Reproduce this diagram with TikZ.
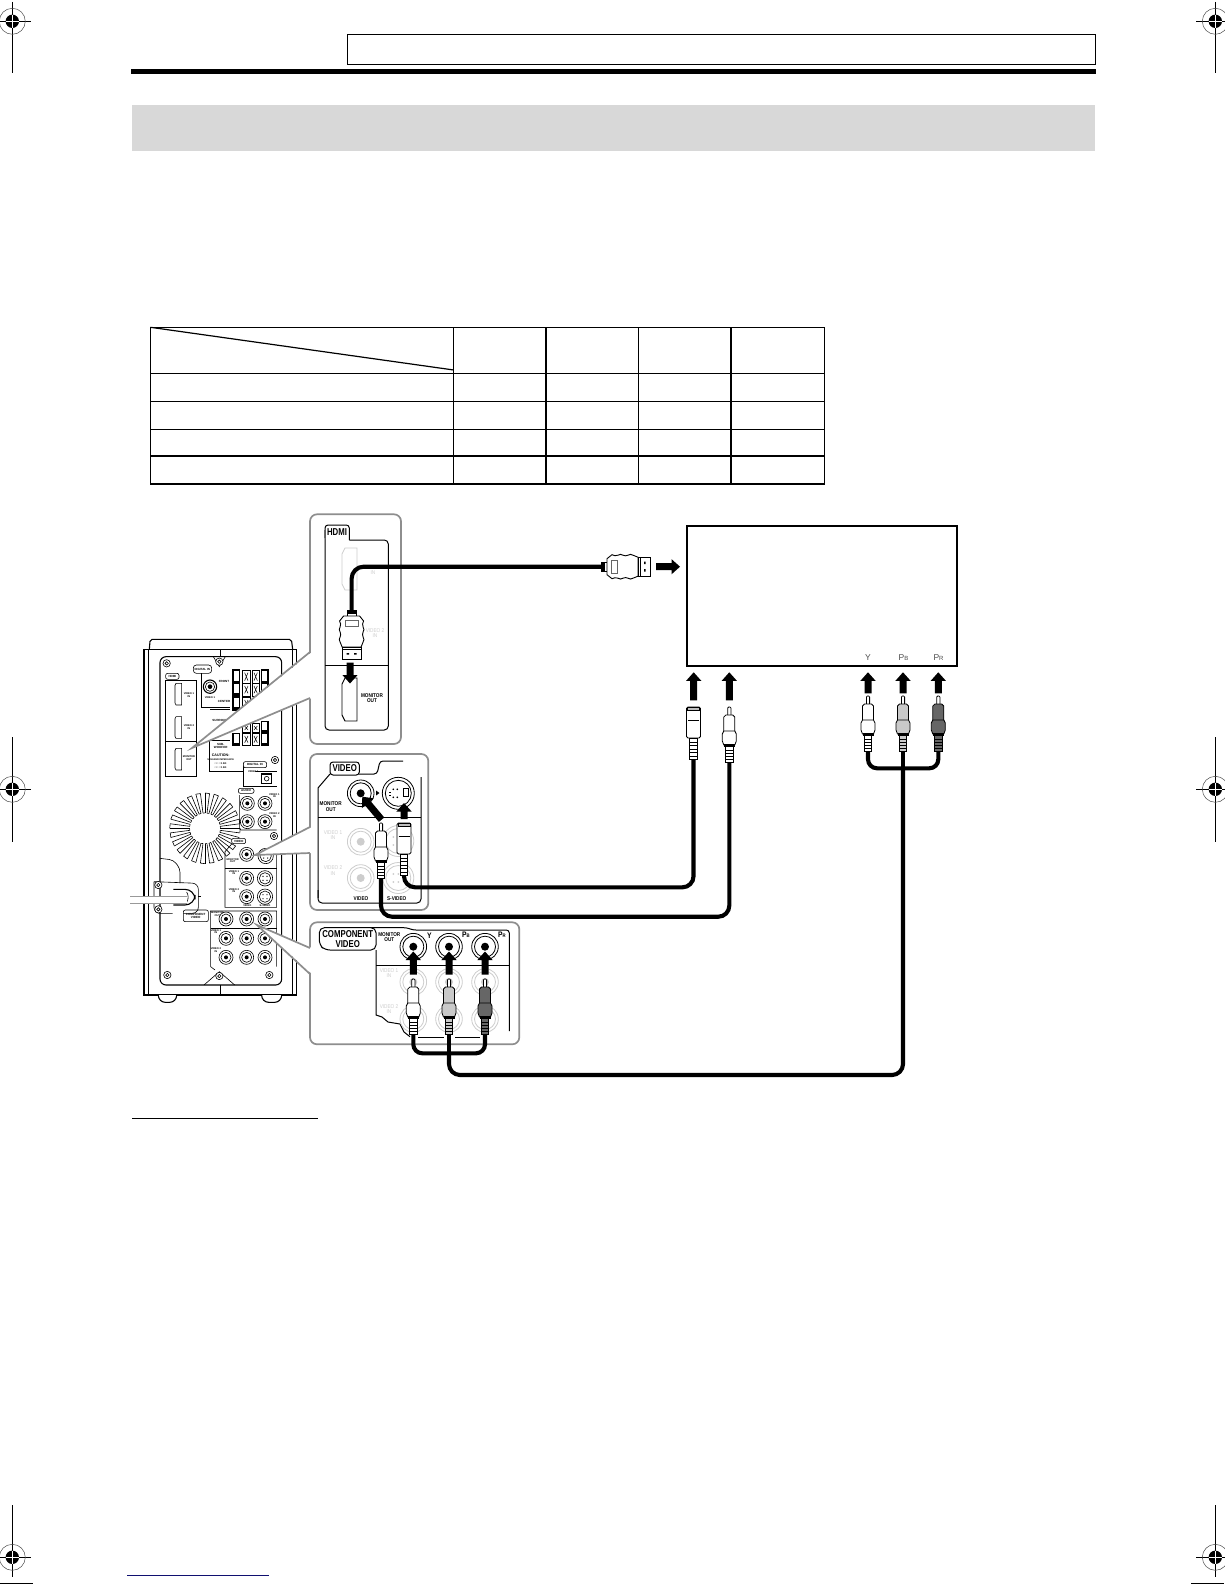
\documentclass[tikz,border=0pt]{standalone}
\usepackage{fontspec}
\setmainfont{Liberation Sans}
\definecolor{panelgray}{HTML}{8E8E8E}
\definecolor{fadegray}{HTML}{CDCDCD}
\definecolor{bandgray}{HTML}{D8D8D8}
\definecolor{plugmid}{HTML}{C9C9C9}
\definecolor{plugdark}{HTML}{666666}
\definecolor{navyline}{HTML}{101070}
\newcommand\fs[1]{\fontsize{#1}{#1}\selectfont}
\tikzset{
  cable/.style={line width=4.1pt,black,rounded corners=11pt},
  panel/.style={draw=panelgray,line width=1.7pt,fill=white,rounded corners=7pt},
  inkline/.style={line width=1pt,black},
  fadeline/.style={line width=.8pt,fadegray},
  boldlab/.style={inner sep=0pt,align=center,font=\bfseries\fs{5.5},xscale=.85},
  fadelab/.style={inner sep=0pt,align=center,font=\fs{5.5},text=fadegray,xscale=.85},
  tablab/.style={inner sep=0pt,align=center,font=\bfseries\fs{10},xscale=.78},
  tinylab/.style={inner sep=0pt,align=center,font=\bfseries\fs{3}},
  tvlab/.style={inner sep=0pt,text=black!70},
  tabline/.style={line width=1.2pt,black},
  tabthick/.style={line width=2.4pt,black},
  rearline/.style={line width=.6pt,black},
  reardark/.style={line width=1.1pt,black},
}
% block arrow: tip at (x,y), rotated, given total length
\newcommand\blockarrow[4]{%
  \fill[black,shift={(#1,#2)},rotate=#3] (0,0)--(7.6,8.5)--(3.5,8.5)--(3.5,#4)--(-3.5,#4)--(-3.5,8.5)--(-7.6,8.5)--cycle;}
\newcommand\regmark[4]{%
  \draw[line width=.9pt] (#1,#3)--(#1,#4);
  \draw[line width=.9pt] (#1-19,#2)--(#1+19,#2);
  \draw[line width=.5pt,black!70] (#1,#2) circle (13);
  \fill[black] (#1,#2) circle (6.7);
  \draw[white,line width=.9pt] (#1-6.7,#2)--(#1+6.7,#2) (#1,#2-6.7)--(#1,#2+6.7);}
\newcommand\rcaplug[3]{%
  \begin{scope}[shift={(#1,#2)},line width=.8pt]
    \draw[fill=white,rounded corners=1pt] (-1.6,8.5)--(-1.6,0)--(1.6,0)--(1.6,8.5);
    \draw[fill=#3] (-5.5,29)--(-5.5,10)--(-3.5,8)--(3.5,8)--(5.5,10)--(5.5,29)--cycle;
    \draw[fill=#3] (-5.5,24)--(-7,27)--(-7,34)--(-5.5,38)--(5.5,38)--(7,34)--(7,27)--(5.5,24)--cycle;
    \fill[black] (-5.5,37) rectangle (5.5,39.5);
    \draw[fill=#3] (-3.8,39.5) rectangle (3.8,55);
    \foreach \s in {43,46,49,52} \draw[line width=.9pt] (-3.8,\s)--(3.8,\s);
  \end{scope}}
\newcommand\svplug[2]{%
  \begin{scope}[shift={(#1,#2)},line width=.8pt]
    \draw[fill=white,rounded corners=1.5pt] (-7,31)--(-7,0)--(7,0)--(7,31)--cycle;
    \draw[fill=black!25] (-6,.5) rectangle (6,3);
    \draw (-5.5,13.5)--(5.5,13.5);
    \draw[fill=white] (-3.8,31) rectangle (3.8,52);
    \foreach \s in {35,38.5,42,45.5,49} \draw[line width=.9pt] (-3.8,\s)--(3.8,\s);
  \end{scope}}
\newcommand\hdmiplug[3]{%
  \begin{scope}[shift={(#1,#2)},rotate=#3,line width=.9pt]
    \draw[fill=black] (-4.5,0) rectangle (4.5,3);
    \draw[fill=white] (-4.5,3) rectangle (4.5,6);
    \draw[fill=white] (-8,6)--(-12,11) to[bend left=25] (-11.5,17) to[bend right=35] (-11.5,22) to[bend left=25] (-11.5,27) to[bend right=35] (-11.5,32)--(-9.5,37)--(9.5,37)--(11.5,32) to[bend right=35] (11.5,27) to[bend left=25] (11.5,22) to[bend right=35] (11.5,17) to[bend left=25] (12,11)--(8,6)--cycle;
    \draw[line width=.6pt,black!60] (-6.5,10.5) rectangle (6.5,16.5);
    \draw[fill=white] (-9.5,37) rectangle (9.5,49);
    \draw (-9.5,37) rectangle (9.5,39);
    \fill (-5,43) rectangle (-2.5,44.5) (2.5,43) rectangle (5,44.5);
  \end{scope}}
\newcommand\jackdark[2]{%
  \draw[line width=.8pt,fill=white] (#1,#2) circle (13.3);
  \draw[line width=.8pt] (#1,#2) circle (10.5);
  \fill (#1,#2) circle (4);}
\newcommand\jackfade[2]{%
  \draw[fadeline,fill=white] (#1,#2) circle (13.3);
  \draw[fadeline] (#1,#2) circle (10.5);
  \fill[fadegray] (#1,#2) circle (4);}
\newcommand\svfade[2]{%
  \draw[fadeline,fill=white] (#1,#2) circle (15.5);
  \draw[fadeline] (#1,#2) circle (12.5);
  \foreach \d/\e in {-5/-4,0/-4,-5/4,0/4} \fill[fadegray] (#1+\d,#2+\e) circle (1);}
\newcommand\portshape[5]{%
  \draw[#5] (#1+3,#2)--(#1+#3,#2)--(#1+#3,#2+#4)--(#1+3,#2+#4)--(#1,#2+#4-6)--(#1,#2+6)--cycle;}
\newcommand\rearjack[2]{%
  \draw[rearline,fill=white] (#1,#2) circle (21);
  \draw[rearline] (#1,#2) circle (15);
  \fill (#1,#2) circle (6);}
\newcommand\rearsv[2]{%
  \draw[rearline,fill=white] (#1,#2) circle (23);
  \draw[rearline] (#1,#2) circle (17);
  \foreach \d/\e in {-6/-6,6/-6,-6/6,6/6} \fill (#1+\d,#2+\e) circle (2);}
\newcommand\screw[2]{%
  \draw[rearline,fill=white] (#1,#2) circle (11);
  \draw[rearline] (#1,#2) circle (5);}
\newcommand\terminal[3]{%
  \draw[line width=.8pt,fill=white] (#1,#2) rectangle (#1+22,#3);
  \draw[line width=.5pt] (#1+6,#2+8)--(#1+16,#3-8) (#1+16,#2+8)--(#1+6,#3-8);}
\newcommand\terminalbar[3]{%
  \draw[line width=1.5pt,fill=white] (#1+1,#2) rectangle (#1+20,#3);
  \fill (#1+1,#3-8) rectangle (#1+20,#3);}
\begin{document}
\begin{tikzpicture}[x=1pt,y=-1pt]
\useasboundingbox (0,0) rectangle (1224,1584);
\fill[white] (0,0) rectangle (1224,1584);

% registration marks
\regmark{12.3}{21.3}{2}{73.5}
\regmark{1215.3}{21.3}{2}{73.5}
\regmark{12.3}{789.3}{737}{841.7}
\regmark{1215.3}{789.3}{737}{841.7}
\regmark{12.3}{1557.3}{1505}{1577}
\regmark{1215.3}{1557.3}{1505}{1577}
\draw[line width=.8pt] (0,1583)--(33,1583) (1191,1583)--(1224,1583);
\draw[navyline,line width=1pt] (127,1575.3)--(269,1575.3);

% header
\draw[line width=1.2pt,black] (347.5,34.5) rectangle (1095.5,64.5);
\fill[black] (131,69) rectangle (1096,73.8);
\fill[bandgray] (132,105) rectangle (1095,151);

% table
\draw[tabline] (150.5,327.3) rectangle (824.5,484);
\draw[tabline] (150.5,373.3)--(824.5,373.3) (150.5,401.3)--(824.5,401.3) (150.5,429.3)--(824.5,429.3);
\draw[tabthick] (150.5,455.7)--(824.5,455.7);
\draw[tabline] (453.7,327.3)--(453.7,484) (638.5,327.3)--(638.5,484) (731,327.3)--(731,484);
\draw[line width=1.9pt] (546,327.3)--(546,484);
\draw[tabline] (150.5,327.3)--(453.7,370);

% footnote rule
\draw[line width=1.1pt] (132,1118.7)--(318,1118.7);

% ------------------ rear of the unit -----------------
\begin{scope}[shift={(130,620)},x=.33333pt,y=-.33333pt]
  \draw[reardark] (58,88)--(60,64)--(66,58)--(478,58)--(485,64)--(488,88);
  \draw[reardark,fill=white] (42,88) rectangle (500,1125);
  \draw[rearline] (55,88)--(55,1125) (487,88)--(487,1125) (272,88)--(272,110) (272,1095)--(272,1125);
  \draw[reardark,rounded corners=7pt,fill=white] (85,1125)--(85,1147)--(140,1147)--(140,1125);
  \draw[reardark,rounded corners=7pt,fill=white] (395,1125)--(395,1147)--(455,1147)--(455,1125);
  \draw[reardark,rounded corners=6pt] (90,110) rectangle (455,1095);
  \draw[rearline] (250,110)--(268,140)--(286,110) (222,1095)--(268,1055)--(314,1095);
  \screw{110}{130}\screw{268}{125}\screw{435}{420}\screw{432}{648}\screw{112}{1065}\screw{268}{1068}\screw{418}{1065}
  % HDMI block
  \draw[rearline,fill=white] (107,180) rectangle (200,470);
  \draw[rearline] (107,365)--(200,365);
  \draw[rearline,rounded corners=2pt,fill=white] (107,160) rectangle (147,178);
  \node[tinylab] (rearhdmi) at (127,169) {HDMI};
  \portshape{135}{190}{20}{65}{rearline}
  \portshape{135}{290}{20}{65}{rearline}
  \portshape{135}{385}{20}{65}{rearline}
  \node[tinylab,font=\bfseries\fs{2.6}] (rearv1) at (177,225) {VIDEO 1\\IN};
  \node[tinylab,font=\bfseries\fs{2.6}] (rearv2) at (177,322) {VIDEO 2\\IN};
  \node[tinylab,font=\bfseries\fs{2.6}] (rearmo) at (177,415) {MONITOR\\OUT};
  % digital coaxial
  \draw[rearline,rounded corners=3pt,fill=white] (190,135) rectangle (245,160);
  \node[tinylab] (reardig) at (217,147) {DIGITAL IN};
  \draw[rearline] (215,160)--(215,262)--(300,262);
  \draw[reardark,fill=white] (240,200) circle (20);
  \draw[rearline] (240,200) circle (14);
  \fill (240,200) circle (7);
  \node[tinylab,font=\bfseries\fs{2.6}] (rearvid1) at (240,234) {VIDEO 1};
  \node[tinylab] (rearfront) at (282,183) {FRONT};
  \node[tinylab] (rearcenter) at (282,243) {CENTER};
  \node[tinylab] (rearsurr) at (273,300) {SURROUND};
  \node[tinylab] (rearsub) at (272,378) {SUB-\\WOOFER};
  % speaker terminals
  \terminalbar{308}{150}{190}\terminal{338}{150}{190}\terminal{366}{150}{190}\terminalbar{394}{150}{190}
  \terminalbar{308}{190}{228}\terminal{338}{190}{228}\terminal{366}{190}{228}\terminalbar{394}{190}{228}
  \terminalbar{308}{232}{270}\terminal{338}{232}{270}
  \terminal{338}{310}{338}\terminal{366}{310}{338}\terminalbar{394}{305}{338}
  \terminalbar{308}{340}{376}\terminal{338}{340}{376}\terminal{366}{340}{376}\terminalbar{394}{340}{376}
  \draw[rearline] (240,268)--(300,268) (215,360)--(300,360) (238,360)--(238,455)--(440,455);
  \node[tinylab,font=\bfseries\fs{3.6}] (rearcaution) at (272,405) {CAUTION:};
  \node[tinylab,font=\bfseries\fs{2.4}] (rearimp) at (272,418) {SPEAKER IMPEDANCE};
  \node[tinylab,font=\bfseries\fs{2.6}] (rearo1) at (272,430) {□□ : 3~4Ω};
  \node[tinylab,font=\bfseries\fs{2.6}] (rearo2) at (272,443) {□□ : 3~4Ω};
  % digital optical
  \draw[rearline,fill=white] (340,430)--(340,500)--(440,500);
  \draw[rearline,rounded corners=2pt,fill=white] (340,425) rectangle (410,443);
  \node[tinylab] (reardigin) at (375,434) {DIGITAL IN};
  \node[tinylab,font=\bfseries\fs{2.6}] (rearvideo1) at (370,456) {VIDEO 1};
  \draw[reardark,line width=1.4pt] (395,462) rectangle (425,490);
  \draw[rearline] (410,476) circle (7);
  % fan
  \foreach \a in {0,7.5,...,352.5} {
    \draw[line width=.6pt] (225,625)++(\a:46)--++(\a:60);
  }
  \foreach \a in {0,15,...,345} {
    \draw[line width=.6pt] (225,625)++(\a:106)--++(\a+97:13);
    \draw[line width=.6pt] (225,625)++(\a+7.5:46)--++(\a+97:6);
  }
  % audio
  \draw[rearline,rounded corners=2pt] (328,525)--(328,630)--(440,630);
  \draw[rearline,rounded corners=2pt,fill=white] (325,505) rectangle (372,520);
  \node[tinylab] (rearaudio) at (348,512) {AUDIO};
  \rearjack{352}{550}\rearjack{405}{550}\rearjack{352}{605}\rearjack{405}{605}
  \node[tinylab,font=\bfseries\fs{2.6}] (rearav1) at (433,527) {VIDEO 1\\IN};
  \node[tinylab,font=\bfseries\fs{2.6}] (rearav2) at (433,585) {VIDEO 2\\IN};
  % video
  \draw[rearline] (305,672)--(285,695)--(285,862)--(440,862)--(440,680);
  \draw[rearline,rounded corners=2pt,fill=white] (305,655) rectangle (347,671);
  \node[tinylab] (rearvideo) at (326,663) {VIDEO};
  \draw[rearline] (285,745)--(440,745);
  \rearjack{350}{703}\rearsv{407}{708}
  \rearjack{350}{775}\rearsv{405}{775}\rearjack{350}{830}\rearsv{405}{830}
  \node[tinylab,font=\bfseries\fs{2.6}] (rearmon) at (308,722) {MONITOR\\OUT};
  \node[tinylab,font=\bfseries\fs{2.6}] (rearv3) at (312,758) {VIDEO 1\\IN};
  \node[tinylab,font=\bfseries\fs{2.6}] (rearv4) at (312,812) {VIDEO 2\\IN};
  \node[tinylab,font=\bfseries\fs{2.6}] (rearvl) at (352,856) {VIDEO};
  \node[tinylab,font=\bfseries\fs{2.6}] (rearsl) at (405,856) {S-VIDEO};
  % component
  \draw[rearline,rounded corners=2pt,fill=white] (160,870) rectangle (235,905);
  \node[tinylab,font=\bfseries\fs{3}] (rearcomp) at (197,887) {COMPONENT\\VIDEO};
  \draw[rearline] (240,873)--(440,873)--(440,1040) (242,873)--(242,1040)--(255,1050);
  \draw[rearline] (242,925)--(440,925);
  \foreach \x in {288,350,405} {\rearjack{\x}{897}\rearjack{\x}{955}\rearjack{\x}{1012}}
  \node[tinylab,font=\bfseries\fs{2.6}] (rearm2) at (262,882) {MONITOR\\OUT};
  \node[tinylab,font=\bfseries\fs{2.6}] (rearc1) at (258,935) {VIDEO 1\\IN};
  \node[tinylab,font=\bfseries\fs{2.6}] (rearc2) at (258,990) {VIDEO 2\\IN};
  % power cord area
  \draw[rearline,rounded corners=4pt] (90,715)--(130,720)--(150,745)--(150,790);
  \draw[rearline,rounded corners=6pt] (72,785)--(72,880)--(128,880) (160,880)--(205,880)--(205,790)--(72,785);
  \screw{85}{795}\screw{85}{868}
  \draw[reardark,rounded corners=10pt,fill=white] (130,808)--(195,808)--(195,855)--(130,855);
  \draw[rearline] (170,816) to[bend left=30] (170,847);
  \fill[white] (0,829) rectangle (170,851);
  \draw[line width=.9pt,black!40] (0,829)--(170,829) (0,851)--(170,851);
  \draw[rearline] (205,830)--(212,830);
\end{scope}

% ------------------ detail panels ------------------
\draw[panel] (310,514.3) rectangle (401,744);
\draw[panel] (310,754) rectangle (428.3,910);
\draw[panel] (310,922.3) rectangle (519.3,1044.3);

% leaders (white wedges with gray rims)
\fill[white] (312,652)--(192,748)--(312,698)--cycle;
\draw[line width=1.7pt,panelgray] (310,652)--(192,748)--(310,698);
\fill[white] (312,827)--(255,855)--(312,853)--cycle;
\draw[line width=1.7pt,panelgray] (310,827)--(255,855)--(310,853);
\fill[white] (312,948)--(257,925)--(312,974)--cycle;
\draw[line width=1.7pt,panelgray] (310,948)--(257,925)--(310,974);

% HDMI panel
\draw[inkline,rounded corners=4pt] (349.3,540)--(388.3,540)--(388.3,730)--(325,730)--(325,530);
\draw[inkline] (325,665.7)--(388.3,665.7);
\draw[inkline,rounded corners=3pt,fill=white] (325,538)--(325,525)--(349.3,525)--(349.3,540);
\node[tablab] (thdmi) at (337,532) {HDMI};
\portshape{342}{548}{15}{42}{fadeline}
\portshape{342}{678}{15}{43}{line width=.9pt,draw=black,fill=white}
\node[fadelab] (hin) at (373,573) {IN};
\node[fadelab,fill=white] (hv2) at (375,633) {VIDEO 2\\IN};
\node[boldlab] (hmo) at (372,698) {MONITOR\\OUT};

% VIDEO panel
\draw[inkline] (330,774)--(318,788)--(318,898);
\draw[inkline,rounded corners=4pt] (318,890)--(318,903)--(421,903)--(421,777);
\draw[inkline,rounded corners=3pt] (359,774)--(377,774)--(380,761)--(403,761);
\draw[inkline] (318,817)--(421,817);
\draw[inkline,rounded corners=3pt,fill=white] (330,775)--(330,762)--(359.3,762)--(359.3,775)--cycle;
\node[tablab] (tvideo) at (344.7,768.5) {VIDEO};
\jackdark{360.7}{793.3}
\jackfade{360.7}{841.7}\jackfade{360.7}{878}
\svfade{398.3}{841}\svfade{398.3}{878}
\draw[line width=.8pt,fill=white] (398.3,793.3) circle (16);
\draw[line width=.8pt] (398.3,793.3) circle (13);
\draw[line width=.9pt] (403,788.5) rectangle (408,796.5);
\foreach \d/\e in {-5/-4,-1/-4,-5/4,-1/4} \fill (398.3+\d,793.3+\e) circle (.9);
\draw[line width=.6pt] (389,792)--(391,792) (389,795)--(391,795);
\fill (376,790.5)--(379.5,793)--(376,795.5)--cycle;
\node[boldlab] (vmo) at (330.7,806.7) {MONITOR\\OUT};
\node[fadelab] (vv1) at (333,835) {VIDEO 1\\IN};
\node[fadelab] (vv2) at (333,870.7) {VIDEO 2\\IN};
\node[boldlab] (vvl) at (361,899) {VIDEO};
\node[boldlab,fill=white] (vsl) at (396.7,899) {S-VIDEO};

% COMPONENT panel
\draw[inkline,rounded corners=3pt] (330,927.7)--(406.7,927.7)--(413,930)--(509.3,930)--(509.3,1031);
\draw[inkline] (376,950)--(376,1015)--(382,1017)--(388,1022)--(400,1024)--(404,1032)--(410,1036.7);
\draw[inkline] (376,965)--(509.3,965);
\draw[inkline] (418,1037)--(444,1037) (455,1037)--(480,1037);
\draw[inkline,rounded corners=5pt,fill=white] (376,950)--(325,950)--(319.3,945)--(319.3,927.7)--(376,927.7)--cycle;
\node[tablab] (tcomp) at (347.7,939) {COMPONENT\\VIDEO};
\foreach \x in {413.3,449,485} {\jackfade{\x}{982}\jackfade{\x}{1019}\jackdark{\x}{946.7}}
\node[boldlab] (cmo) at (389.3,937) {MONITOR\\OUT};
\node[boldlab,font=\bfseries\fs{8}] (cy) at (429.5,935.7) {Y};
\node[boldlab,font=\bfseries\fs{8}] (cpb) at (466,935) {P{\fs{5}B}};
\node[boldlab,font=\bfseries\fs{8}] (cpr) at (502,935) {P{\fs{5}R}};
\node[fadelab] (cv1) at (389,973) {VIDEO 1\\IN};
\node[fadelab] (cv2) at (389,1009) {VIDEO 2\\IN};

% ------------------ television box -------------------
\node[draw,line width=1.8pt,minimum width=270.3pt,minimum height=139.7pt,inner sep=0pt] (tv) at (822.15,595.85) {};
\node[tvlab,font=\fs{8.5}] (ty) at (868,658) {Y};
\node[tvlab,font=\fs{8.5}] (tpb) at (903.5,658) {P{\fs{6}B}};
\node[tvlab,font=\fs{8.5}] (tpr) at (938.5,658) {P{\fs{6}R}};

% ------------------ cables ---------------------------
\coordinate (hdmiA) at (351.6,610);
\coordinate (hdmiB) at (601,566.7);
\draw[cable,rounded corners=12pt] (hdmiA) |- (hdmiB);

\coordinate (svA) at (404,874);
\coordinate (svB) at (693.5,758);
\coordinate (svRun) at (550,887.3);
\draw[cable] (svA) |- (svRun) -| (svB);

\coordinate (rcaA) at (381,877);
\coordinate (rcaB) at (729.3,761);
\coordinate (rcaRun) at (550,916.7);
\draw[cable] (rcaA) |- (rcaRun) -| (rcaB);

\coordinate (yP) at (413.3,1033);
\coordinate (pbP) at (449,1033);
\coordinate (prP) at (485,1033);
\coordinate (yT) at (868,750);
\coordinate (pbT) at (903,750);
\coordinate (prT) at (938.3,750);
\coordinate (railP) at (449,1053.3);
\coordinate (railT) at (903,768.3);
\coordinate (trunk) at (680,1075);
\draw[cable,rounded corners=9pt] (yP) |- (railP) -| (prP);
\draw[cable,rounded corners=9pt] (yT) |- (railT) -| (prT);
\draw[cable,rounded corners=0pt] (pbT)--(railT);
\draw[cable,rounded corners=0pt] (pbP)--(railP);
\draw[cable] (railP) |- (trunk) -| (railT);

% ------------------ plugs ----------------------------
\hdmiplug{351.6}{610}{0}
\hdmiplug{601}{566.7}{90}
\svplug{693.5}{707}
\rcaplug{729.3}{707}{white}
\rcaplug{868}{696}{white}
\rcaplug{903}{696}{plugmid}
\rcaplug{938.3}{696}{plugdark}
\svplug{404}{823}
\rcaplug{381}{823}{white}
\rcaplug{413.3}{979}{white}
\rcaplug{449}{979}{plugmid}
\rcaplug{485}{979}{plugdark}

% ------------------ block arrows ---------------------
\blockarrow{680}{566.7}{-90}{24}
\blockarrow{693.7}{672.3}{0}{28}
\blockarrow{729.3}{672.3}{0}{28}
\blockarrow{868}{672.3}{0}{21}
\blockarrow{903}{672.3}{0}{21}
\blockarrow{938.3}{672.3}{0}{21}
\blockarrow{350}{683.5}{180}{21}
\blockarrow{362.3}{796.7}{40}{30}
\blockarrow{404}{803}{0}{16}
\blockarrow{413.3}{951.5}{0}{23}
\blockarrow{449}{951.5}{0}{23}
\blockarrow{485}{951.5}{0}{23}
\end{tikzpicture}
\end{document}
